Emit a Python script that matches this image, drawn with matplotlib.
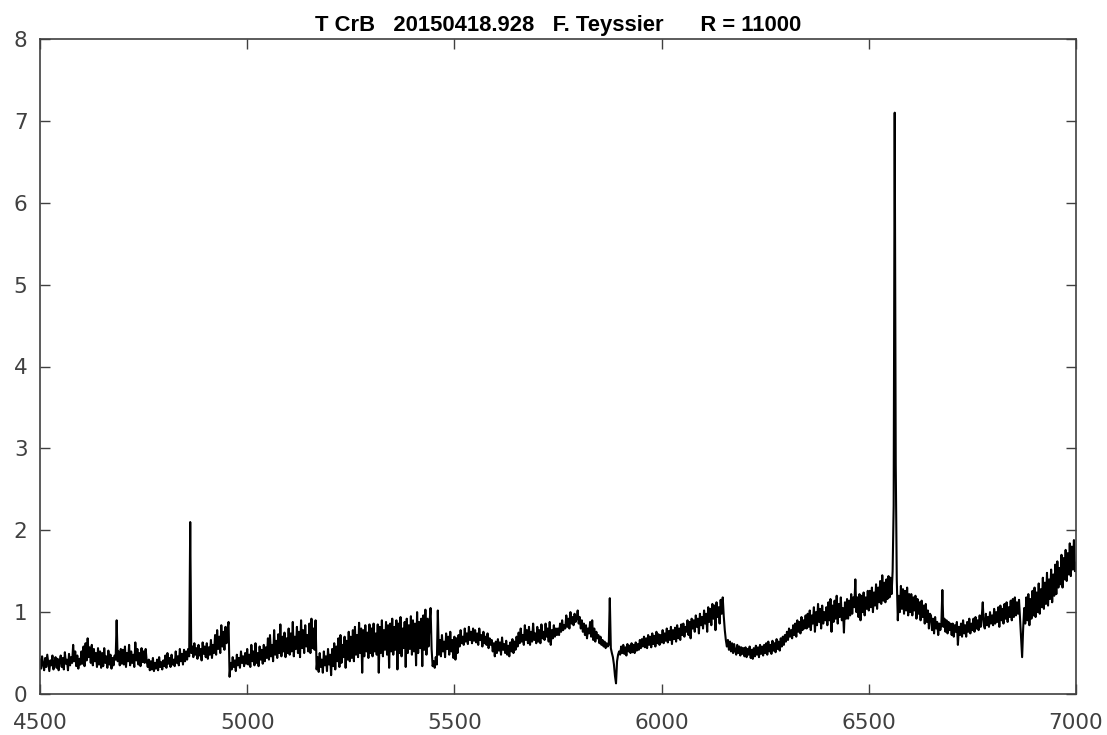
import numpy as np
import matplotlib
matplotlib.use("Agg")
import matplotlib.pyplot as plt

# Relative flux of the T CrB spectrum, sampled every 2.5 Angstrom from 4500 to 7000
wave_start, wave_end = 4500, 7000

flux_4500 = [
    0.42, 0.31, 0.46, 0.36, 0.29, 0.44, 0.33, 0.48, 0.38, 0.28, 0.41, 0.35, 0.47, 0.30, 0.39, 0.45, 0.32, 0.43, 0.29, 0.40,
    0.47, 0.33, 0.44, 0.30, 0.51, 0.37, 0.42, 0.29, 0.49, 0.35, 0.45, 0.38, 0.60, 0.40, 0.52, 0.34, 0.47, 0.31, 0.43, 0.36,
    0.52, 0.37, 0.58, 0.34, 0.62, 0.41, 0.68, 0.45, 0.57, 0.38, 0.60, 0.35, 0.55, 0.40, 0.50, 0.33, 0.56, 0.36, 0.52, 0.32,
    0.50, 0.34, 0.56, 0.38, 0.46, 0.32, 0.53, 0.36, 0.48, 0.31, 0.44, 0.35, 0.47, 0.42, 0.90, 0.40, 0.52, 0.35, 0.55, 0.37,
    0.54, 0.36, 0.58, 0.33, 0.50, 0.40, 0.60, 0.35, 0.52, 0.38, 0.48, 0.33, 0.63, 0.41, 0.55, 0.36, 0.50, 0.34, 0.56, 0.39,
    0.52, 0.38, 0.55, 0.40, 0.33, 0.42, 0.29, 0.40, 0.30, 0.44, 0.28, 0.38, 0.31, 0.42, 0.29, 0.45, 0.33, 0.39, 0.30, 0.41,
    0.34, 0.47, 0.32, 0.50, 0.37, 0.44, 0.33, 0.48, 0.36, 0.42, 0.34, 0.52, 0.38, 0.46, 0.35, 0.55, 0.40, 0.49, 0.36, 0.54,
    0.40, 0.52, 0.42, 0.55, 0.46, 2.10, 0.50, 0.58, 0.45, 0.62, 0.48, 0.56, 0.43, 0.60, 0.47, 0.55, 0.41, 0.63, 0.49, 0.58,
    0.45, 0.62, 0.43, 0.57, 0.48, 0.66, 0.44, 0.60, 0.50, 0.72, 0.48, 0.78, 0.55, 0.70, 0.50, 0.84, 0.58, 0.76, 0.54, 0.82,
    0.62, 0.80, 0.88, 0.21, 0.38, 0.30, 0.45, 0.33, 0.41, 0.28, 0.48, 0.35, 0.44, 0.32, 0.52, 0.38, 0.46, 0.34, 0.50, 0.37,
]
flux_5000 = [
    0.55, 0.36, 0.48, 0.33, 0.60, 0.40, 0.52, 0.35, 0.62, 0.38, 0.50, 0.34, 0.58, 0.42, 0.54, 0.37, 0.60, 0.40, 0.57, 0.44,
    0.68, 0.42, 0.72, 0.46, 0.60, 0.40, 0.78, 0.48, 0.65, 0.44, 0.73, 0.50, 0.85, 0.46, 0.70, 0.52, 0.75, 0.45, 0.68, 0.50,
    0.80, 0.48, 0.74, 0.52, 0.88, 0.46, 0.70, 0.55, 0.82, 0.50, 0.76, 0.45, 0.90, 0.56, 0.78, 0.50, 0.84, 0.58, 0.72, 0.52,
    0.86, 0.50, 0.92, 0.56, 0.80, 0.54, 0.90, 0.30, 0.45, 0.27, 0.50, 0.33, 0.42, 0.26, 0.52, 0.35, 0.46, 0.28, 0.55, 0.36,
    0.48, 0.23, 0.55, 0.34, 0.62, 0.30, 0.58, 0.40, 0.68, 0.33, 0.72, 0.38, 0.60, 0.45, 0.70, 0.32, 0.65, 0.42, 0.76, 0.40,
    0.70, 0.44, 0.78, 0.40, 0.82, 0.48, 0.72, 0.45, 0.87, 0.50, 0.80, 0.26, 0.78, 0.46, 0.84, 0.52, 0.75, 0.44, 0.85, 0.50,
    0.80, 0.46, 0.86, 0.52, 0.74, 0.48, 0.85, 0.26, 0.82, 0.50, 0.90, 0.46, 0.78, 0.54, 0.88, 0.48, 0.84, 0.32, 0.86, 0.52,
    0.92, 0.48, 0.82, 0.54, 0.90, 0.30, 0.86, 0.50, 0.94, 0.46, 0.80, 0.56, 0.88, 0.33, 0.92, 0.50, 0.84, 0.55, 0.95, 0.48,
    0.90, 0.52, 0.86, 0.35, 1.00, 0.50, 0.88, 0.56, 0.92, 0.34, 0.96, 0.54, 1.03, 0.48, 0.92, 0.58, 0.88, 1.05, 0.55, 0.34,
    0.40, 0.32, 0.45, 0.36, 1.02, 0.48, 0.66, 0.46, 0.72, 0.52, 0.64, 0.45, 0.74, 0.55, 0.70, 0.48, 0.76, 0.52, 0.66, 0.44,
]
flux_5500 = [
    0.70, 0.42, 0.68, 0.50, 0.72, 0.58, 0.78, 0.62, 0.70, 0.60, 0.80, 0.64, 0.74, 0.61, 0.82, 0.66, 0.76, 0.62, 0.80, 0.65,
    0.78, 0.63, 0.74, 0.60, 0.80, 0.66, 0.72, 0.58, 0.76, 0.62, 0.70, 0.60, 0.74, 0.56, 0.68, 0.60, 0.66, 0.52, 0.62, 0.46,
    0.64, 0.50, 0.67, 0.53, 0.63, 0.48, 0.69, 0.54, 0.61, 0.50, 0.65, 0.48, 0.59, 0.46, 0.63, 0.52, 0.67, 0.50, 0.64, 0.54,
    0.70, 0.58, 0.75, 0.62, 0.80, 0.64, 0.72, 0.60, 0.84, 0.66, 0.78, 0.62, 0.82, 0.60, 0.76, 0.64, 0.86, 0.66, 0.74, 0.62,
    0.82, 0.64, 0.78, 0.62, 0.85, 0.68, 0.76, 0.66, 0.86, 0.70, 0.80, 0.64, 0.88, 0.60, 0.78, 0.68, 0.84, 0.70, 0.80, 0.72,
    0.80, 0.72, 0.86, 0.76, 0.90, 0.78, 0.84, 0.80, 0.96, 0.82, 0.92, 0.80, 1.00, 0.86, 0.94, 0.84, 0.98, 0.88, 0.92, 1.02,
    0.86, 0.94, 0.80, 0.90, 0.76, 0.86, 0.72, 0.84, 0.68, 0.80, 0.74, 0.88, 0.70, 0.90, 0.66, 0.80, 0.64, 0.76, 0.68, 0.72,
    0.62, 0.70, 0.60, 0.66, 0.58, 0.64, 0.56, 0.62, 0.58, 0.60, 1.17, 0.56, 0.50, 0.45, 0.36, 0.22, 0.13, 0.40, 0.48, 0.52,
    0.48, 0.58, 0.50, 0.60, 0.49, 0.57, 0.47, 0.61, 0.52, 0.59, 0.50, 0.62, 0.51, 0.60, 0.50, 0.63, 0.53, 0.61, 0.54, 0.66,
    0.56, 0.67, 0.58, 0.70, 0.57, 0.68, 0.56, 0.72, 0.60, 0.70, 0.57, 0.74, 0.61, 0.71, 0.58, 0.76, 0.62, 0.73, 0.60, 0.72,
]
flux_6000 = [
    0.63, 0.78, 0.62, 0.74, 0.65, 0.80, 0.63, 0.77, 0.66, 0.82, 0.61, 0.78, 0.67, 0.81, 0.64, 0.84, 0.68, 0.80, 0.66, 0.85,
    0.72, 0.86, 0.70, 0.82, 0.76, 0.90, 0.72, 0.88, 0.68, 0.92, 0.80, 0.90, 0.76, 0.96, 0.82, 0.92, 0.74, 0.98, 0.84, 0.94,
    0.80, 1.02, 0.86, 0.98, 0.76, 1.06, 0.88, 1.04, 0.84, 1.10, 0.92, 1.08, 0.78, 1.12, 0.94, 1.06, 0.86, 1.15, 0.98, 1.18,
    0.95, 0.78, 0.66, 0.58, 0.66, 0.54, 0.64, 0.52, 0.62, 0.50, 0.61, 0.53, 0.48, 0.60, 0.50, 0.58, 0.47, 0.57, 0.49, 0.56,
    0.46, 0.57, 0.45, 0.55, 0.48, 0.58, 0.44, 0.54, 0.43, 0.56, 0.46, 0.59, 0.48, 0.57, 0.45, 0.60, 0.49, 0.58, 0.47, 0.60,
    0.50, 0.62, 0.48, 0.64, 0.52, 0.60, 0.49, 0.65, 0.53, 0.62, 0.51, 0.67, 0.55, 0.64, 0.53, 0.68, 0.58, 0.70, 0.60, 0.72,
    0.64, 0.76, 0.66, 0.80, 0.70, 0.78, 0.68, 0.84, 0.72, 0.86, 0.70, 0.90, 0.76, 0.88, 0.74, 0.94, 0.78, 0.90, 0.80, 0.96,
    0.80, 0.98, 0.82, 1.02, 0.78, 0.96, 0.86, 1.06, 0.76, 1.00, 0.84, 1.10, 0.88, 1.04, 0.80, 1.08, 0.86, 1.00, 0.90, 1.06,
    0.84, 1.12, 0.90, 1.16, 0.76, 1.08, 0.88, 1.14, 0.92, 1.20, 0.86, 1.10, 0.94, 1.18, 0.90, 1.05, 0.75, 1.12, 0.92, 1.16,
    0.92, 1.14, 0.96, 1.22, 0.98, 1.18, 1.06, 1.40, 1.00, 1.18, 0.94, 1.22, 0.90, 1.20, 1.00, 1.24, 0.96, 1.18, 1.04, 1.26,
]
flux_6500 = [
    1.02, 1.26, 1.06, 1.30, 1.00, 1.24, 1.08, 1.34, 1.04, 1.30, 1.12, 1.38, 1.10, 1.45, 1.14, 1.36, 1.12, 1.40, 1.16, 1.44,
    1.18, 1.42, 1.22, 1.50, 2.30, 7.10, 2.80, 1.40, 0.90, 1.20, 1.00, 1.32, 1.04, 1.28, 0.98, 1.26, 1.02, 1.30, 0.96, 1.22,
    1.00, 1.22, 0.96, 1.18, 1.02, 1.20, 0.92, 1.16, 0.98, 1.12, 0.90, 1.14, 0.94, 1.08, 0.86, 1.10, 0.88, 1.02, 0.80, 0.98,
    0.96, 0.78, 0.92, 0.74, 0.94, 0.80, 0.88, 0.72, 0.86, 0.78, 0.84, 1.27, 0.82, 0.92, 0.76, 0.90, 0.74, 0.88, 0.78, 0.86,
    0.72, 0.86, 0.70, 0.84, 0.76, 0.88, 0.60, 0.82, 0.72, 0.86, 0.70, 0.90, 0.74, 0.84, 0.70, 0.88, 0.76, 0.92, 0.74, 0.86,
    0.78, 0.92, 0.76, 0.94, 0.80, 0.90, 0.78, 0.96, 0.82, 0.94, 1.12, 0.84, 0.80, 0.98, 0.84, 0.94, 0.82, 1.00, 0.86, 0.96,
    0.84, 1.04, 0.86, 1.00, 0.88, 1.06, 0.82, 1.08, 0.90, 1.04, 0.86, 1.10, 0.92, 1.12, 0.88, 1.06, 0.94, 1.14, 0.90, 1.16,
    0.94, 1.18, 0.96, 1.12, 0.98, 1.15, 0.92, 0.70, 0.45, 0.80, 1.05, 0.86, 1.18, 0.90, 1.22, 0.84, 1.16, 0.92, 1.26, 0.96,
    1.30, 0.94, 1.24, 1.00, 1.35, 0.98, 1.28, 1.06, 1.42, 1.04, 1.36, 1.10, 1.48, 1.08, 1.40, 1.16, 1.52, 1.12, 1.46, 1.20,
    1.58, 1.22, 1.62, 1.30, 1.54, 1.34, 1.70, 1.30, 1.66, 1.40, 1.76, 1.38, 1.72, 1.46, 1.84, 1.44, 1.80, 1.52, 1.88, 1.50,
    1.60,
]

x_ticks = [4500, 5000, 5500, 6000, 6500, 7000]
y_ticks = [0, 1, 2, 3, 4, 5, 6, 7, 8]
title_text = "T CrB   20150418.928   F. Teyssier      R = 11000"

flux = np.array(flux_4500 + flux_5000 + flux_5500 + flux_6000 + flux_6500)
wave = np.linspace(wave_start, wave_end, len(flux))

frame_color = "#404040"

fig = plt.figure(figsize=(11.07, 7.35), dpi=100)
ax = fig.add_axes([40 / 1107, 41 / 735, 1036 / 1107, 655 / 735])

ax.plot(wave, flux, color="black", linewidth=1.5)

ax.set_xlim(4500, 7000)
ax.set_ylim(0, 8)
ax.set_xticks(x_ticks)
ax.set_yticks(y_ticks)

for spine in ax.spines.values():
    spine.set_color(frame_color)
    spine.set_linewidth(1.2)

ax.tick_params(direction="in", length=7.5, width=1.0, color=frame_color,
               top=True, right=True, labelcolor="#404040",
               labelsize=15.5)
ax.tick_params(axis="x", pad=14)
ax.tick_params(axis="y", pad=9)
for lab in ax.get_xticklabels() + ax.get_yticklabels():
    lab.set_family("DejaVu Sans")

ax.set_title(title_text, fontsize=15.8, fontweight="bold",
             family="Liberation Sans", color="black", pad=6)

fig.savefig("out.png", dpi=100, facecolor="white")
